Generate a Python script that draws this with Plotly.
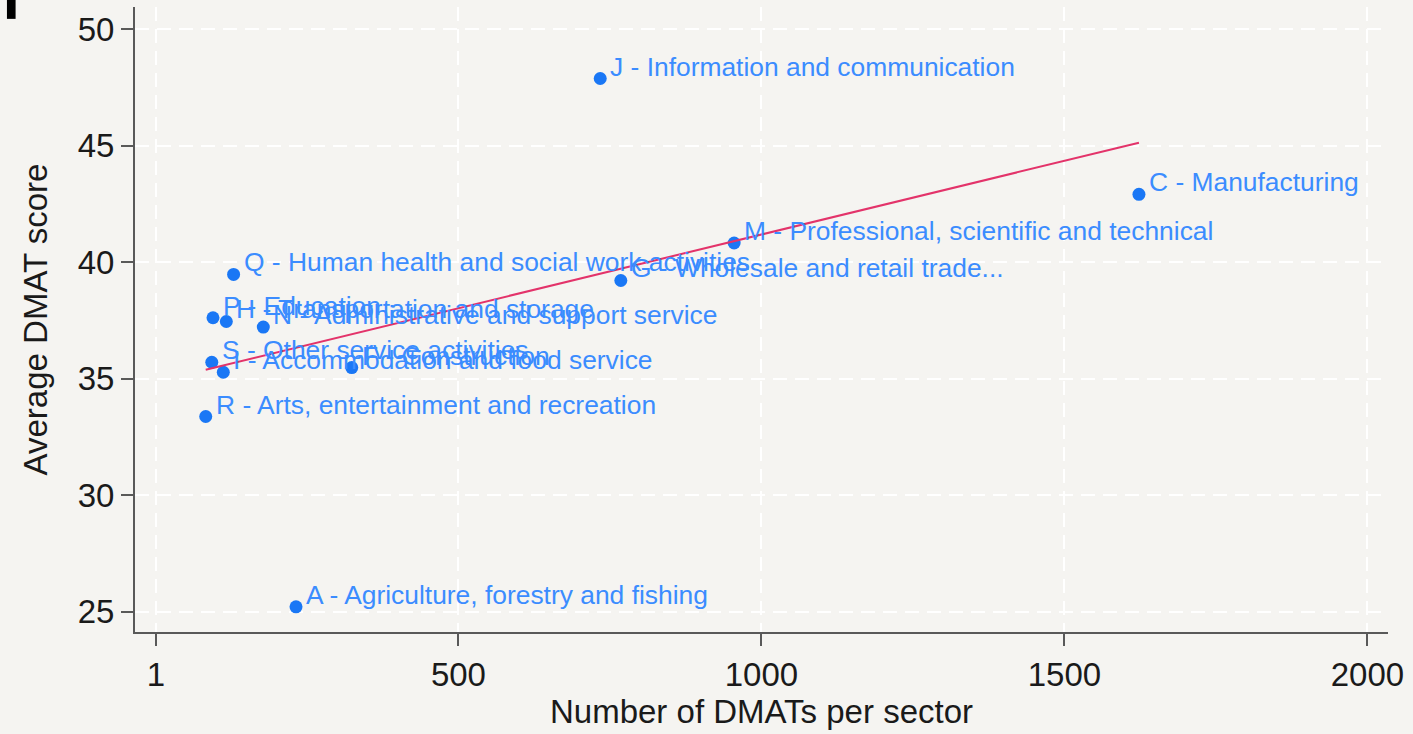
import numpy as np
import plotly.graph_objects as go

# ---- data ----
sectors = [
    "J - Information and communication",
    "C - Manufacturing",
    "M - Professional, scientific and technical",
    "G - Wholesale and retail trade...",
    "Q - Human health and social work activities",
    "P - Education",
    "H - Transportation and storage",
    "N - Administrative and support service",
    "S - Other service activities",
    "I - Accommodation and food service",
    "F - Construction",
    "R - Arts, entertainment and recreation",
    "A - Agriculture, forestry and fishing",
]
n_dmats = [734, 1623, 955, 768, 129, 95, 117, 178, 93, 112, 324, 83, 232]
avg_score = [47.88, 42.91, 40.82, 39.21, 39.47, 37.61, 37.45, 37.21, 35.70, 35.27, 35.47, 33.37, 25.20]

x_tickvals = [1, 500, 1000, 1500, 2000]
y_tickvals = [25, 30, 35, 40, 45, 50]
x_title = "Number of DMATs per sector"
y_title = "Average DMAT score"

# ---- linear fit (drawn over the observed x range) ----
xa = np.array(n_dmats, dtype=float)
ya = np.array(avg_score, dtype=float)
slope, intercept = np.polyfit(xa, ya, 1)
fit_x = [xa.min(), xa.max()]
fit_y = [intercept + slope * v for v in fit_x]

BG = "#f5f4f1"
AXIS = "#595959"
MARKER = "#1a77f5"
LABEL = "#3b8cff"
LINE = "#e3336a"
FONT = "Liberation Sans, Arial, sans-serif"

fig = go.Figure()
fig.add_trace(go.Scatter(
    x=n_dmats, y=avg_score, mode="markers",
    marker=dict(size=13, color=MARKER, line=dict(width=0)),
    showlegend=False, hoverinfo="skip",
))
fig.add_trace(go.Scatter(
    x=fit_x, y=fit_y, mode="lines",
    line=dict(color=LINE, width=2),
    showlegend=False, hoverinfo="skip",
))

for name, xv, yv in zip(sectors, n_dmats, avg_score):
    fig.add_annotation(
        x=xv, y=yv, text=name, showarrow=False,
        xanchor="left", yanchor="middle", xshift=8, yshift=12,
        font=dict(family=FONT, size=26.4, color=LABEL),
    )

# small dark mark at top-left corner of the reference image
fig.add_shape(type="rect", xref="paper", yref="paper",
              x0=-0.1022, x1=-0.0953, y0=0.981, y1=1.02,
              fillcolor="#000000", line=dict(width=0))

GRID_DASH = "14px,8px"

fig.update_layout(
    width=1413, height=734,
    paper_bgcolor=BG, plot_bgcolor=BG,
    margin=dict(l=135, r=25, t=7, b=102),
    font=dict(family=FONT, color="#1a1a1a"),
    xaxis=dict(
        range=[-33.7, 2034], tickvals=x_tickvals,
        ticktext=[str(v) for v in x_tickvals],
        showline=True, linecolor=AXIS, linewidth=2,
        ticks="outside", ticklen=12, tickwidth=2, tickcolor=AXIS,
        tickfont=dict(size=33, color="#1a1a1a"),
        showgrid=True, gridcolor="#ffffff", gridwidth=2, griddash=GRID_DASH,
        zeroline=False,
        title=dict(text=x_title, font=dict(size=33, color="#1a1a1a"), standoff=6),
    ),
    yaxis=dict(
        range=[24.12, 50.95], tickvals=y_tickvals,
        showline=True, linecolor=AXIS, linewidth=2,
        ticks="outside", ticklen=12, tickwidth=2, tickcolor=AXIS,
        tickfont=dict(size=33, color="#1a1a1a"),
        showgrid=True, gridcolor="#ffffff", gridwidth=2, griddash=GRID_DASH,
        zeroline=False,
        title=dict(text=y_title, font=dict(size=33, color="#1a1a1a"), standoff=20),
    ),
)

fig.write_html("out.html")
